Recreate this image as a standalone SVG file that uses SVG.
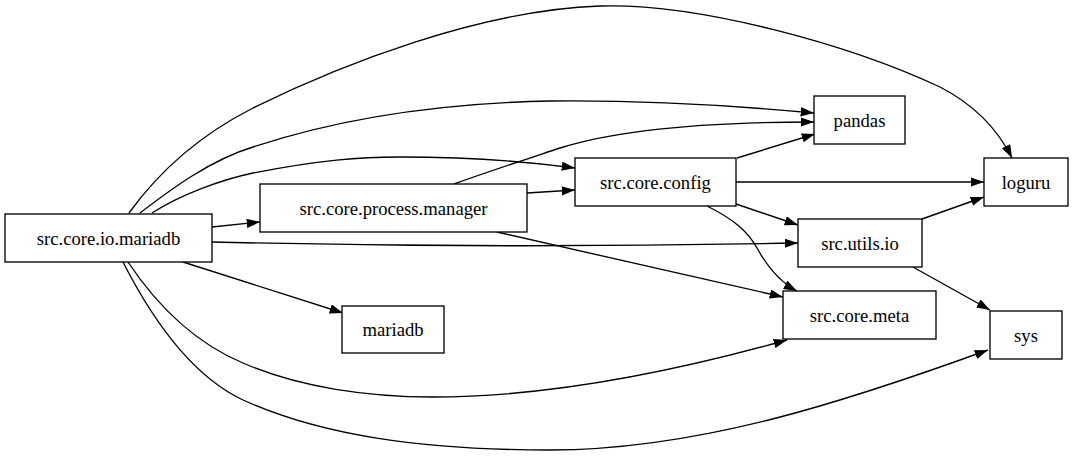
<svg xmlns="http://www.w3.org/2000/svg" width="1073" height="456" viewBox="0 0 1073 456">
<style>
.node rect{fill:#fff;stroke:#000;stroke-width:1.33}
.node text{font-family:'Liberation Serif','Times New Roman',serif;font-size:18.67px;fill:#000;text-anchor:middle}
.edges path{fill:none;stroke:#000;stroke-width:1.33;marker-end:url(#arr)}
</style>
<defs>
<marker id="arr" markerUnits="userSpaceOnUse" markerWidth="14" markerHeight="10" refX="13.3" refY="4.67" orient="auto">
<path d="M0,0 L13.3,4.67 L0,9.33 z" fill="#000"/>
</marker>
</defs>
<rect width="1073" height="456" fill="#fff"/>
<g class="edges">
<path d="M212,227 L260,222"/>
<path d="M152,213 C180,195 220,180 253,173 C320,160 360,157 400,157 C470,157 530,162 575,168"/>
<path d="M140,213 C170,190 210,160 253,147 C350,115 450,103 550,101 C650,100 750,107 814,113"/>
<path d="M129,213 C160,170 200,135 253,108 C340,65 480,10 600,6 C700,3 850,45 940,87 C975,105 998,130 1012,158"/>
<path d="M212,242 C380,246 600,247 798,243"/>
<path d="M183,262 L343,313"/>
<path d="M128,262 C160,310 200,345 243,363 C300,388 370,397 433,397 C550,397 680,370 787,340"/>
<path d="M123,262 C150,315 190,375 243,400 C320,435 420,450 550,450 C700,450 850,400 988,350"/>
<path d="M527,193 L575,190"/>
<path d="M454,184 C490,171 530,158 560,148 C630,126 730,122 814,122"/>
<path d="M497,232 L783,297"/>
<path d="M737,158 L815,134"/>
<path d="M736,182 L984,182"/>
<path d="M736,204 L798,225"/>
<path d="M707,206 C735,220 748,232 757,248 C768,268 780,282 797,291"/>
<path d="M922,219 L984,197"/>
<path d="M913,267 L990,310"/>
</g>
<g id="node-io-mariadb" class="node"><rect x="5" y="214" width="207" height="48"/><text x="108.5" y="244.5">src.core.io.mariadb</text></g>
<g id="node-process-manager" class="node"><rect x="260" y="184" width="267" height="48"/><text x="393.5" y="214.5">src.core.process.manager</text></g>
<g id="node-config" class="node"><rect x="575" y="158" width="161" height="48"/><text x="655.5" y="188.5">src.core.config</text></g>
<g id="node-pandas" class="node"><rect x="814" y="96" width="91" height="48"/><text x="859.5" y="126.5">pandas</text></g>
<g id="node-loguru" class="node"><rect x="984" y="158" width="84" height="48"/><text x="1026" y="188.5">loguru</text></g>
<g id="node-utils-io" class="node"><rect x="798" y="219" width="124" height="48"/><text x="860" y="249.5">src.utils.io</text></g>
<g id="node-meta" class="node"><rect x="783" y="291" width="153" height="48"/><text x="859.5" y="321.5">src.core.meta</text></g>
<g id="node-sys" class="node"><rect x="990" y="311" width="72" height="48"/><text x="1026" y="341.5">sys</text></g>
<g id="node-mariadb" class="node"><rect x="342" y="306" width="102" height="47"/><text x="393" y="336">mariadb</text></g>
</svg>
